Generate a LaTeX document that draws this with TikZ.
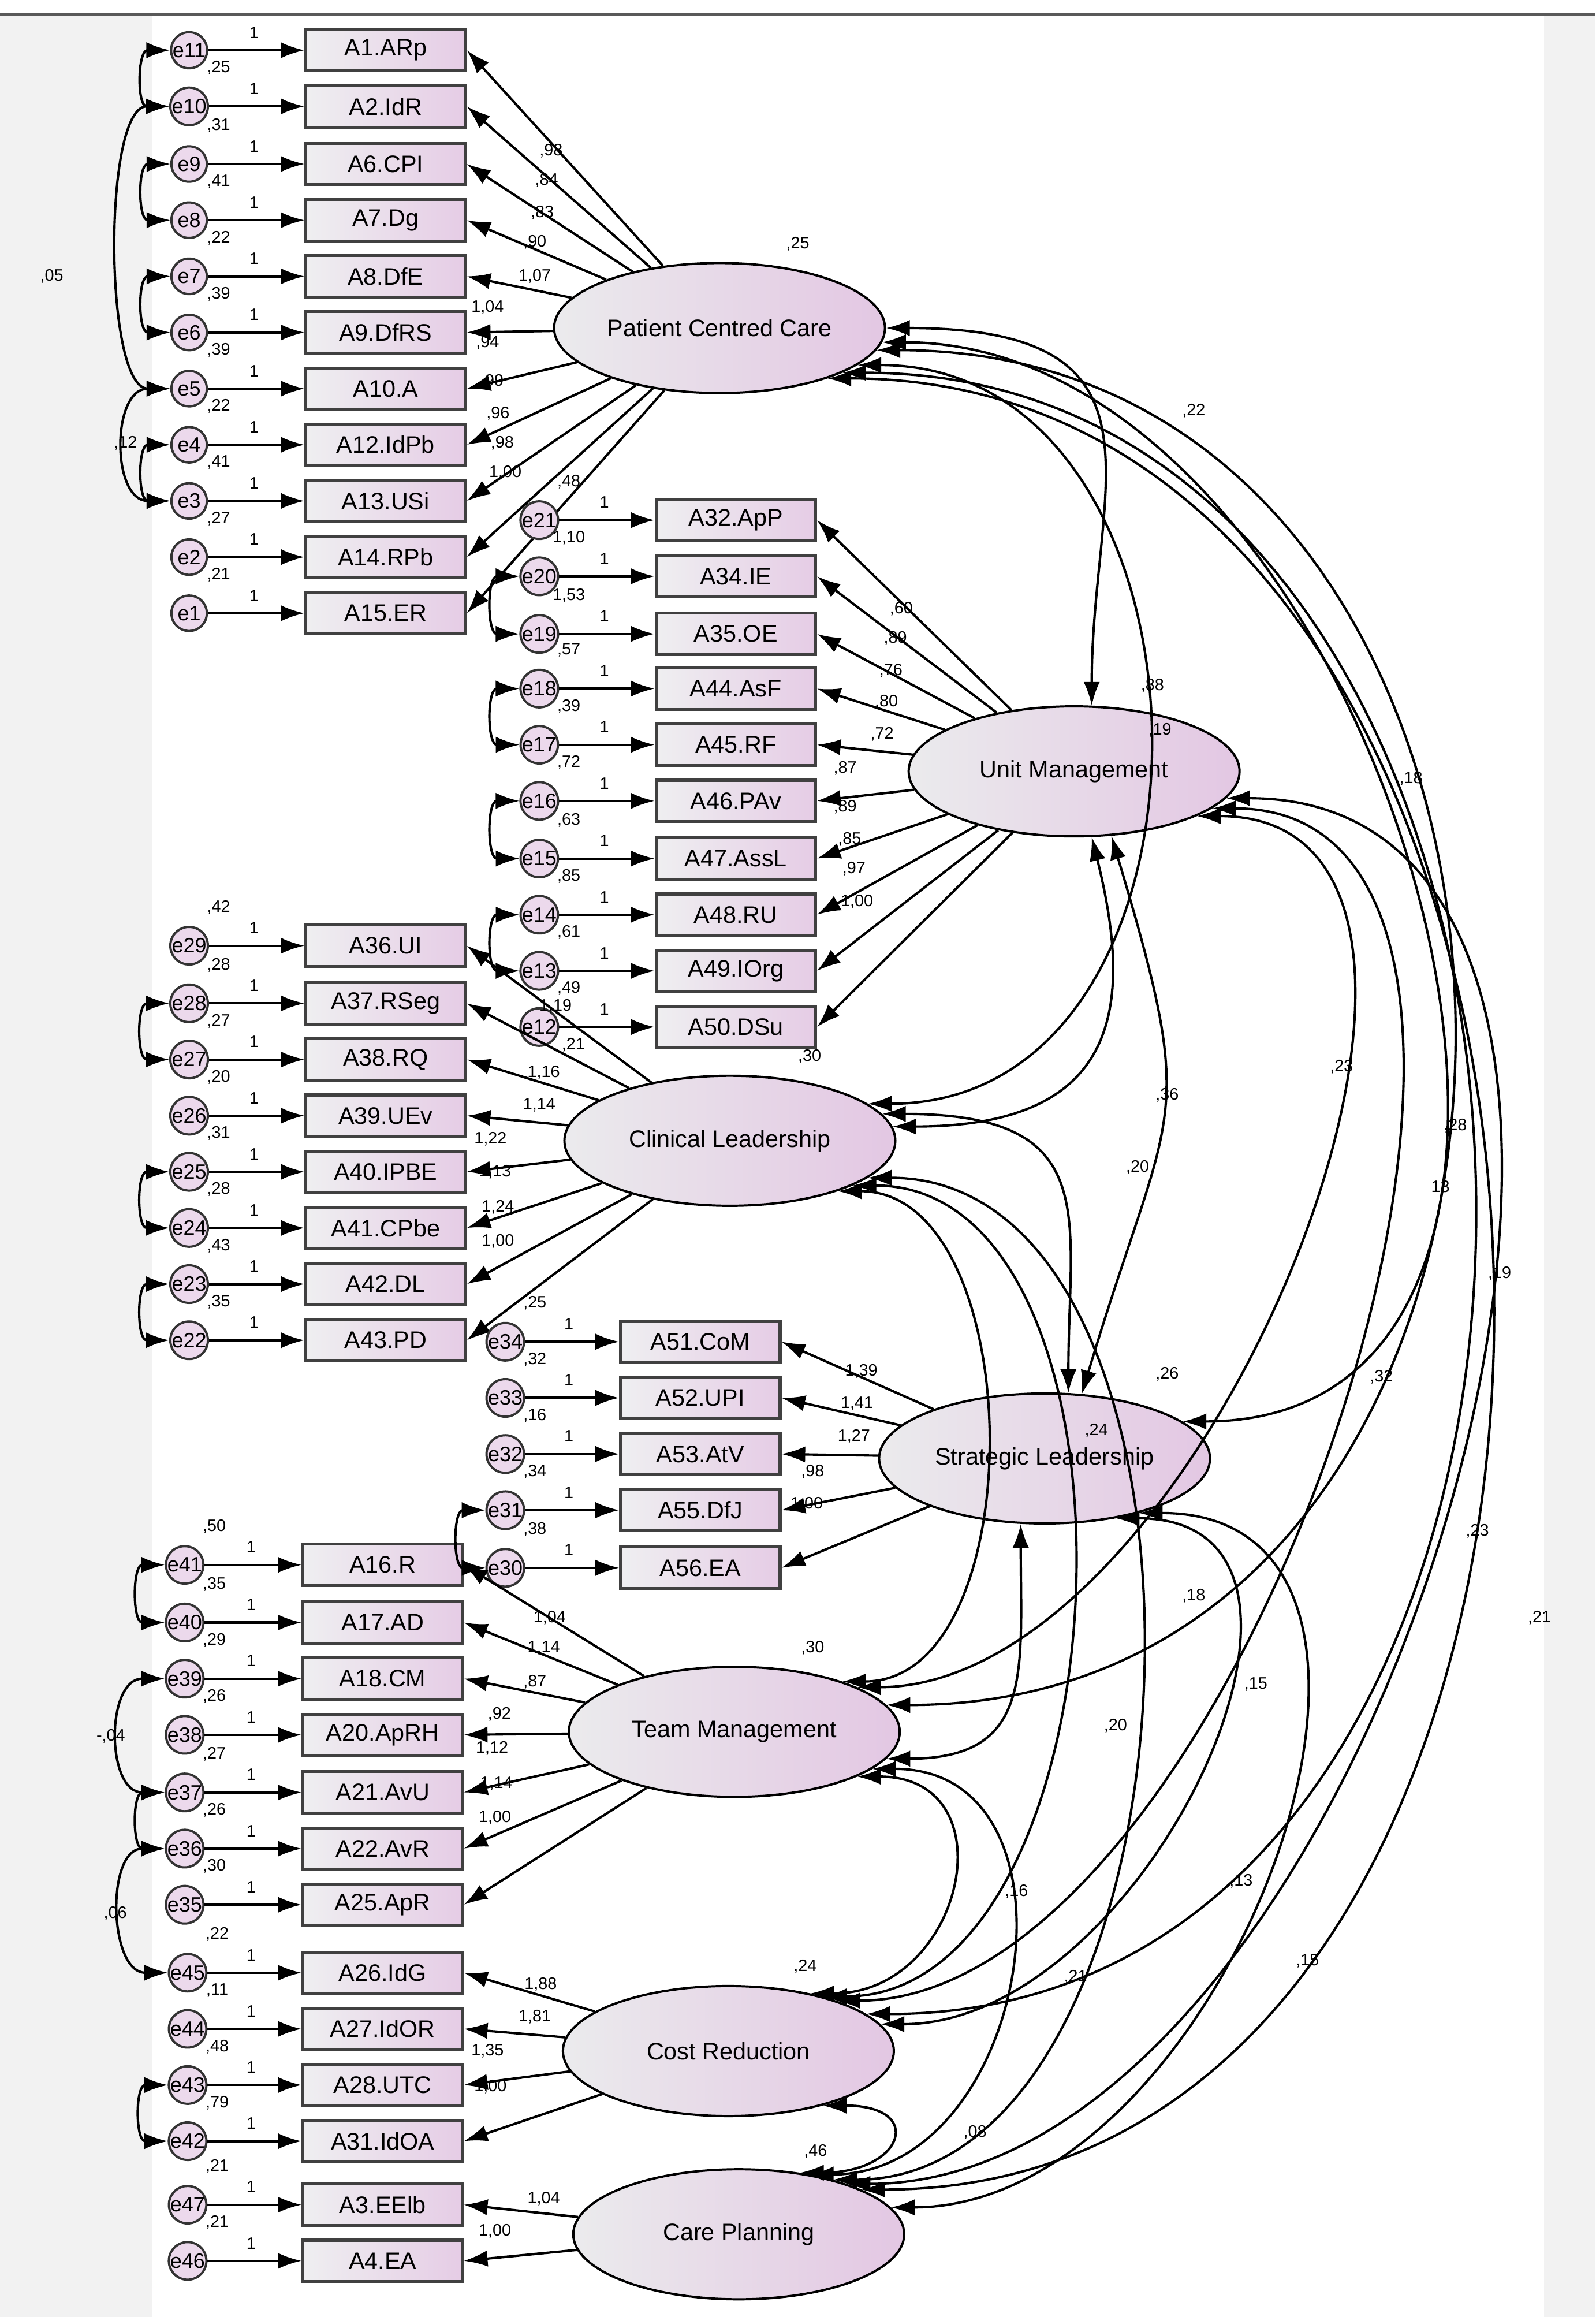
\documentclass[tikz,border=0pt]{standalone}
\usepackage{fontspec}
\setmainfont{Liberation Sans}
\usetikzlibrary{arrows.meta,shapes.geometric}
\tikzset{
 arr/.style={line width=2.3pt,-{Latex[length=0.8cm,width=0.55cm]}},
 cov/.style={line width=2.3pt,{Latex[length=0.8cm,width=0.55cm]}-{Latex[length=0.8cm,width=0.55cm]}},
 box/.style={draw=black!75,line width=2.8pt,left color=blue!6!gray!12,right color=violet!20,minimum width=5.4cm,minimum height=1.4cm,inner sep=0pt,font=\fontsize{23}{23}\selectfont},
 err/.style={circle,draw=black!80,line width=2.2pt,fill=violet!15,minimum size=1.2cm,inner sep=0pt,font=\fontsize{20}{20}\selectfont},
 lat/.style={ellipse,draw=black,line width=2.2pt,left color=blue!5!gray!15,right color=violet!22,minimum width=11.2cm,minimum height=4.4cm,font=\fontsize{23}{23}\selectfont},
 sm/.style={font=\fontsize{16}{16}\selectfont,inner sep=0pt}
}
\newcommand\ind[7]{%
 \node[err] (#4) at (#1,#3) {#4};
 \node[box] (#5) at (#2,#3) {#6};
 \draw[arr] (#4) -- (#5.west);
 \node[sm] at ({#2-89},{#3-12}) {1};
 \node[sm] at ({#1+20},{#3-26}) {#7};}
\begin{document}
\begin{tikzpicture}[x=0.05cm,y=-0.05cm]
\useasboundingbox (0,0) rectangle (1080,1568);
\fill[white] (0,0) rectangle (1080,1568);
\fill[gray!10] (0,10) rectangle (103,1568);
\fill[gray!10] (1045,10) rectangle (1080,1568);
\draw[gray!70!black,line width=2.5pt] (0,10) -- (1080,10);

% latent
\node[lat] (PCC) at (487,222) {Patient Centred Care};
\node[lat] (UM) at (727,522) {Unit Management};
\node[lat] (CL) at (494,772) {Clinical Leadership};
\node[lat] (SL) at (707,987) {Strategic Leadership};
\node[lat] (TM) at (497,1172) {Team Management};
\node[lat] (CR) at (493,1388) {Cost Reduction};
\node[lat] (CP) at (500,1512) {Care Planning};

% group 1
\ind{128}{261}{34}{e11}{p1}{A1.ARp}{}
\ind{128}{261}{72}{e10}{p2}{A2.IdR}{,25}
\ind{128}{261}{111}{e9}{p3}{A6.CPI}{,31}
\ind{128}{261}{149}{e8}{p4}{A7.Dg}{,41}
\ind{128}{261}{187}{e7}{p5}{A8.DfE}{,22}
\ind{128}{261}{225}{e6}{p6}{A9.DfRS}{,39}
\ind{128}{261}{263}{e5}{p7}{A10.A}{,39}
\ind{128}{261}{301}{e4}{p8}{A12.IdPb}{,22}
\ind{128}{261}{339}{e3}{p9}{A13.USi}{,41}
\ind{128}{261}{377}{e2}{p10}{A14.RPb}{,27}
\ind{128}{261}{415}{e1}{p11}{A15.ER}{,21}
\foreach \i in {1,...,11} \draw[arr] (PCC) -- (p\i.east);
\foreach \t/\x/\y in {{,98}/373/102,{,84}/370/122,{,83}/367/144,{,90}/362/164,{1,07}/362/187,{1,04}/330/208,{,94}/330/232,{,99}/333/258,{,96}/337/280,{,98}/340/300,{1,00}/342/320}
 \node[sm] at (\x,\y) {\t};
\node[sm] at (540,165) {,25};

% group 2
\ind{365}{498}{352}{e21}{u1}{A32.ApP}{,48}
\ind{365}{498}{390}{e20}{u2}{A34.IE}{1,10}
\ind{365}{498}{429}{e19}{u3}{A35.OE}{1,53}
\ind{365}{498}{466}{e18}{u4}{A44.AsF}{,57}
\ind{365}{498}{504}{e17}{u5}{A45.RF}{,39}
\ind{365}{498}{542}{e16}{u6}{A46.PAv}{,72}
\ind{365}{498}{581}{e15}{u7}{A47.AssL}{,63}
\ind{365}{498}{619}{e14}{u8}{A48.RU}{,85}
\ind{365}{498}{657}{e13}{u9}{A49.IOrg}{,61}
\ind{365}{498}{695}{e12}{u10}{A50.DSu}{,49}
\foreach \i in {1,...,10} \draw[arr] (UM) -- (u\i.east);
\foreach \t/\x/\y in {{,60}/610/412,{,89}/606/432,{,76}/603/454,{,80}/600/475,{,72}/597/497,{,87}/572/520,{,89}/572/546,{,85}/575/568,{,97}/578/588,{1,00}/580/610}
 \node[sm] at (\x,\y) {\t};
\node[sm] at (785,494) {,19};

% group 3
\ind{128}{261}{640}{e29}{c1}{A36.UI}{,42}
\ind{128}{261}{679}{e28}{c2}{A37.RSeg}{,28}
\ind{128}{261}{717}{e27}{c3}{A38.RQ}{,27}
\ind{128}{261}{755}{e26}{c4}{A39.UEv}{,20}
\ind{128}{261}{793}{e25}{c5}{A40.IPBE}{,31}
\ind{128}{261}{831}{e24}{c6}{A41.CPbe}{,28}
\ind{128}{261}{869}{e23}{c7}{A42.DL}{,43}
\ind{128}{261}{907}{e22}{c8}{A43.PD}{,35}
\foreach \i in {1,...,8} \draw[arr] (CL) -- (c\i.east);
\foreach \t/\x/\y in {{1,19}/376/681,{,21}/388/707,{1,16}/368/726,{1,14}/365/748,{1,22}/332/771,{1,13}/335/793,{1,24}/337/817,{1,00}/337/840}
 \node[sm] at (\x,\y) {\t};
\node[sm] at (548,715) {,30};

% group 4
\ind{342}{474}{908}{e34}{s1}{A51.CoM}{,25}
\ind{342}{474}{946}{e33}{s2}{A52.UPI}{,32}
\ind{342}{474}{984}{e32}{s3}{A53.AtV}{,16}
\ind{342}{474}{1022}{e31}{s4}{A55.DfJ}{,34}
\ind{342}{474}{1061}{e30}{s5}{A56.EA}{,38}
\foreach \i in {1,...,5} \draw[arr] (SL) -- (s\i.east);
\foreach \t/\x/\y in {{1,39}/583/928,{1,41}/580/950,{1,27}/578/972,{,98}/550/996,{1,00}/546/1018}
 \node[sm] at (\x,\y) {\t};

% group 5
\ind{125}{259}{1059}{e41}{t1}{A16.R}{,50}
\ind{125}{259}{1098}{e40}{t2}{A17.AD}{,35}
\ind{125}{259}{1136}{e39}{t3}{A18.CM}{,29}
\ind{125}{259}{1174}{e38}{t4}{A20.ApRH}{,26}
\ind{125}{259}{1213}{e37}{t5}{A21.AvU}{,27}
\ind{125}{259}{1251}{e36}{t6}{A22.AvR}{,26}
\ind{125}{259}{1289}{e35}{t7}{A25.ApR}{,30}
\foreach \i in {1,...,7} \draw[arr] (TM) -- (t\i.east);
\foreach \t/\x/\y in {{1,04}/372/1095,{1,14}/368/1115,{,87}/362/1138,{,92}/338/1160,{1,12}/333/1183,{1,14}/336/1207,{1,00}/335/1230}
 \node[sm] at (\x,\y) {\t};
\node[sm] at (550,1115) {,30};

% group 6
\ind{127}{259}{1335}{e45}{r1}{A26.IdG}{,22}
\ind{127}{259}{1373}{e44}{r2}{A27.IdOR}{,11}
\ind{127}{259}{1411}{e43}{r3}{A28.UTC}{,48}
\ind{127}{259}{1449}{e42}{r4}{A31.IdOA}{,79}
\foreach \i in {1,...,4} \draw[arr] (CR) -- (r\i.east);
\foreach \t/\x/\y in {{1,88}/366/1343,{1,81}/362/1365,{1,35}/330/1388,{1,00}/332/1412}
 \node[sm] at (\x,\y) {\t};
\node[sm] at (545,1331) {,24};

% group 7
\ind{127}{259}{1492}{e47}{q1}{A3.EElb}{,21}
\ind{127}{259}{1530}{e46}{q2}{A4.EA}{,21}
\foreach \i in {1,2} \draw[arr] (CP) -- (q\i.east);
\node[sm] at (368,1488) {1,04};
\node[sm] at (335,1510) {1,00};
\node[sm] at (552,1456) {,46};

% error covariances
\foreach \a/\b in {e11/e10,e9/e8,e7/e6,e4/e3,e20/e19,e18/e17,e16/e15,e14/e13,e28/e27,e25/e24,e23/e22,e31/e30,e41/e40,e37/e36,e43/e42}
 \draw[cov] (\a.west) .. controls +(-22,0) and +(-22,0) .. (\b.west);
\draw[cov] (e10.west) .. controls +(-45,0) and +(-45,0) .. (e5.west);
\draw[cov] (e5.west) .. controls +(-40,0) and +(-40,0) .. (e3.west);
\draw[cov] (e39.west) .. controls +(-40,0) and +(-40,0) .. (e37.west);
\draw[cov] (e36.west) .. controls +(-40,0) and +(-40,0) .. (e45.west);
\node[sm] at (35,187) {,05};
\node[sm] at (85,300) {,12};
\node[sm] at (75,1175) {-,04};
\node[sm] at (78,1295) {,06};

% factor covariances
\draw[cov] (PCC.east) .. controls +(200,0) and +(0,-150) .. (UM.75);
\draw[cov] (PCC.-15) .. controls +(256,0) and +(256,0) .. (CL.15);
\draw[cov] (PCC.-5) .. controls +(340,0) and +(340,0) .. (SL.15);
\draw[cov] (PCC.-8) .. controls +(513,0) and +(513,0) .. (TM.10);
\draw[cov] (PCC.-20) .. controls +(556,0) and +(556,0) .. (CR.15);
\draw[cov] (PCC.-25) .. controls +(581,0) and +(581,0) .. (CP.20);
\draw[cov] (UM.-75) .. controls +(30,120) and +(150,0) .. (CL.5);
\draw[cov] (UM.-60) .. controls +(60,200) and +(60,-200) .. (SL.60);
\draw[cov] (UM.-20) .. controls +(240,0) and +(240,0) .. (TM.20);
\draw[cov] (UM.-15) .. controls +(284,0) and +(284,0) .. (CR.25);
\draw[cov] (UM.-10) .. controls +(372,0) and +(372,0) .. (CP.25);
\draw[cov] (CL.10) .. controls +(150,0) and +(0,-120) .. (SL.70);
\draw[cov] (CL.-25) .. controls +(130,0) and +(130,0) .. (TM.25);
\draw[cov] (CL.-20) .. controls +(210,0) and +(210,0) .. (CR.30);
\draw[cov] (CL.-15) .. controls +(260,0) and +(260,0) .. (CP.30);
\draw[cov] (SL.-110) .. controls +(0,100) and +(100,0) .. (TM.-10);
\draw[cov] (SL.-40) .. controls +(180,0) and +(180,0) .. (CR.10);
\draw[cov] (SL.-30) .. controls +(230,0) and +(230,0) .. (CP.10);
\draw[cov] (TM.-20) .. controls +(104,0) and +(104,0) .. (CR.35);
\draw[cov] (TM.-15) .. controls +(150,0) and +(150,0) .. (CP.40);
\draw[cov] (CR.-30) .. controls +(70,0) and +(70,0) .. (CP.45);
\foreach \t/\x/\y in {{,22}/808/278,{,88}/780/464,{,18}/955/527,{,23}/908/722,{,36}/790/741,{,20}/770/790,{,28}/985/762,{13}/975/803,{,19}/1015/862,{,32}/935/932,{,26}/790/930,{,24}/742/968,{,23}/1000/1036,{,21}/1042/1095,{,18}/808/1080,{,15}/850/1140,{,20}/755/1168,{,16}/688/1280,{,13}/840/1273,{,21}/728/1338,{,15}/885/1327,{,08}/660/1443}
 \node[sm] at (\x,\y) {\t};
\end{tikzpicture}
\end{document}
